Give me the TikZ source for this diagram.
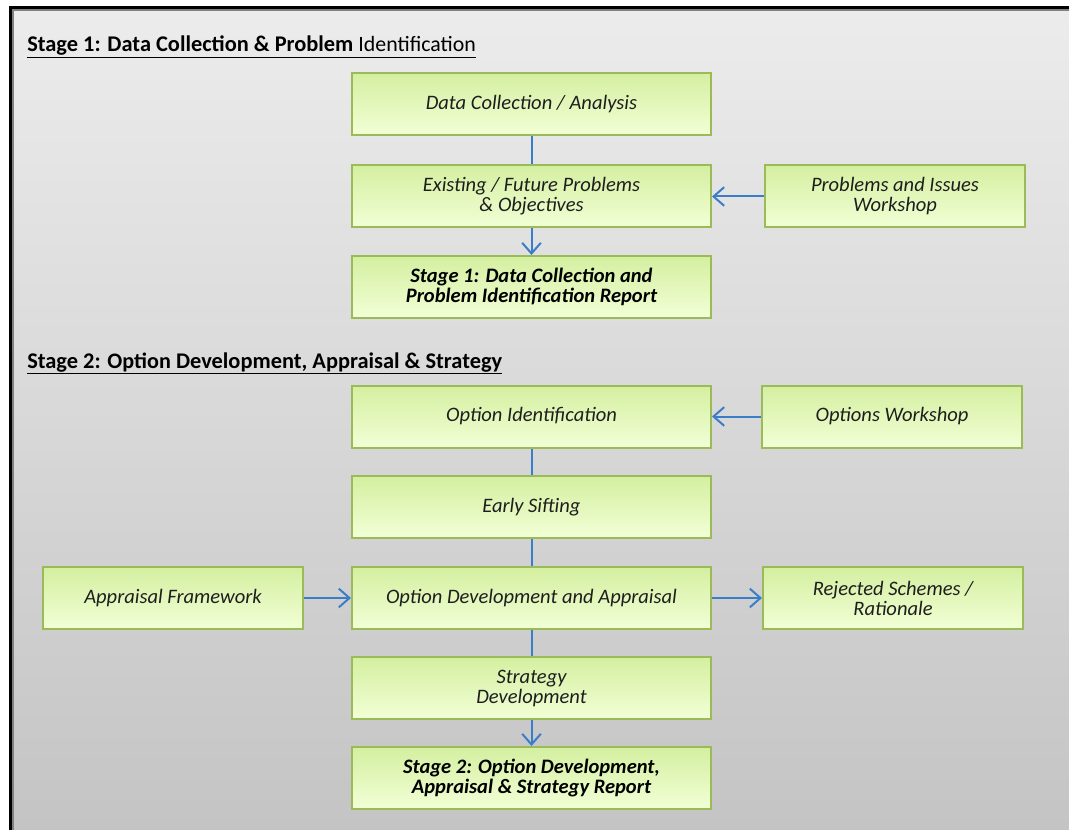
\documentclass[tikz,border=0pt]{standalone}
\usepackage{fontspec}
\setmainfont{Carlito}
\usetikzlibrary{arrows.meta}
\definecolor{boxedge}{RGB}{155,187,89}
\definecolor{boxtop}{RGB}{212,239,160}
\definecolor{boxbot}{RGB}{242,255,214}
\definecolor{linkblue}{RGB}{58,125,200}
\definecolor{bgtop}{RGB}{236,236,236}
\definecolor{bgbot}{RGB}{196,196,196}
\definecolor{txt}{RGB}{30,30,30}
\begin{document}
\begin{tikzpicture}[x=0.75pt,y=-0.75pt,
  box/.style={draw=boxedge, line width=1.5pt, top color=boxtop, bottom color=boxbot,
    minimum height=46.5pt, align=center, inner sep=2pt,
    font=\fontsize{15.4}{15}\selectfont\itshape, text=txt},
  wide/.style={box, minimum width=269.25pt},
  narrow/.style={box, minimum width=195pt},
  report/.style={wide, font=\fontsize{15.4}{15}\selectfont\bfseries\itshape, text=black},
  link/.style={draw=linkblue, line width=1.5pt},
  arr/.style={link, -{Straight Barb[length=8pt,width=14pt,line width=1.5pt]}},
  heading/.style={anchor=base west, inner sep=0pt, text=black},
]
% canvas and grey panel
\fill[white] (0,0) rectangle (1069,830);
\useasboundingbox (0,0) rectangle (1069,830);
\fill[top color=bgtop, bottom color=bgbot] (10,7) rectangle (1069,830);
\draw[black!50, line width=0.8pt] (13,832) -- (13,10) -- (1070,10);
\draw[black, line width=1.6pt] (10.5,832) -- (10.5,7.5) -- (1070,7.5);

% stage headings
\node[heading] (h1) at (27,52) {\underline{\fontsize{16.8}{18}\selectfont\bfseries Stage 1: Data Collection \& Problem {\fontsize{16.4}{18}\selectfont\mdseries Identification}}};
\node[heading] (h2) at (27,368) {\underline{\fontsize{16.8}{18}\selectfont\bfseries Stage 2: {\fontsize{16.6}{18}\selectfont Option} Development, Appraisal \& Strategy}};

% stage 1 boxes
\node[wide] (dca) at (531.5,104) {Data Collection / Analysis};
\node[wide] (efp) at (531.5,196.5) {Existing / Future Problems\\\& Objectives};
\node[narrow] (piw) at (895,196.5) {Problems and Issues\\Workshop};
\node[report] (r1) at (531.5,287) {Stage 1: Data Collection and\\Problem Identification Report};

% stage 2 boxes
\node[wide] (oid) at (531.5,416.5) {Option Identification};
\node[narrow] (ows) at (892,416.5) {Options Workshop};
\node[wide] (esf) at (531.5,507) {Early Sifting};
\node[narrow] (apf) at (173,598) {Appraisal Framework};
\node[wide] (oda) at (531.5,598) {Option Development and Appraisal};
\node[narrow] (rej) at (893,598) {Rejected Schemes /\\Rationale};
\node[wide] (sdv) at (531.5,688) {Strategy\\Development};
\node[report] (r2) at (531.5,778) {Stage 2: Option Development,\\Appraisal \& Strategy Report};

% connectors
\draw[link] (dca) -- (efp);
\draw[arr] (efp) -- (r1);
\draw[arr] (piw) -- (efp);
\draw[arr] (ows) -- (oid);
\draw[link] (oid) -- (esf);
\draw[link] (esf) -- (oda);
\draw[link] (oda) -- (sdv);
\draw[arr] (sdv) -- (r2);
\draw[arr] (apf) -- (oda);
\draw[arr] (oda) -- (rej);
\end{tikzpicture}
\end{document}
